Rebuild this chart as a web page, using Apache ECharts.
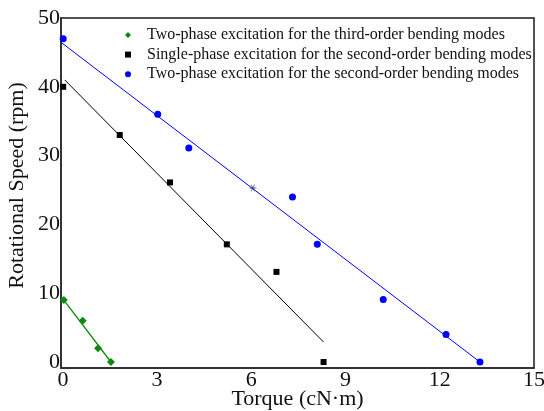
<!DOCTYPE html>
<html>
<head>
<meta charset="utf-8">
<script src="https://cdn.jsdelivr.net/npm/echarts@6/dist/echarts.min.js"></script>
<style>
html,body{margin:0;padding:0;background:#fff;}
#chart{width:544px;height:411px;}
</style>
</head>
<body>
<div id="chart"></div>
<script>
// ---- data ----
const seriesNames = [
  'Two-phase excitation for the third-order bending modes',
  'Single-phase excitation for the second-order bending modes',
  'Two-phase excitation for the second-order bending modes'
];
const greenX = [0.03, 0.63, 1.12, 1.53];
const greenY = [9.0, 6.0, 2.0, 0.0];
const blackX = [0.01, 1.81, 3.41, 5.22, 6.80, 8.30];
const blackY = [40.0, 33.0, 26.1, 17.1, 13.1, 0.0];
const blueX = [0.01, 3.02, 4.01, 7.31, 8.10, 10.20, 12.20, 13.28];
const blueY = [47.0, 36.0, 31.1, 24.0, 17.1, 9.1, 4.0, 0.0];
// fitted lines (end points)
const greenFitX = [0.03, 1.53];
const greenFitY = [9.0, 0.0];
const blackFitX = [0.06, 8.30];
const blackFitY = [41.0, 2.9];
const blueFitX = [-0.04, 13.28];
const blueFitY = [46.4, 0.0];
// grey asterisk mark on the blue line
const markX = [6.05];
const markY = [25.3];
const xTicks = [0, 3, 6, 9, 12, 15];
const yTicks = [0, 10, 20, 30, 40, 50];
const xTitle = 'Torque (cN\u00b7m)';
const yTitle = 'Rotational Speed (rpm)';

const zip = (xs, ys) => xs.map((x, i) => [x, ys[i]]);
const FONT = '"Liberation Serif", "Times New Roman", serif';

const chart = echarts.init(document.getElementById('chart'), null, {renderer: 'canvas'});
chart.setOption({
  animation: false,
  backgroundColor: '#fff',
  grid: {left: 61, right: 10, top: 18, bottom: 43, containLabel: false, outerBoundsMode: 'none',
         show: true, borderColor: '#1a1a1a', borderWidth: 1.5, backgroundColor: 'transparent'},
  legend: {
    data: seriesNames,
    orient: 'vertical',
    left: 120,
    top: 22,
    itemWidth: 6,
    itemHeight: 6,
    itemGap: 3.6,
    textStyle: {fontFamily: FONT, fontSize: 16, color: '#111', padding: [0, 0, 0, 11]}
  },
  xAxis: {
    type: 'value',
    min: -0.06,
    max: 15,
    axisLine: {show: true, onZero: false, lineStyle: {color: '#333', width: 2}},
    axisTick: {show: false},
    splitLine: {show: false},
    axisLabel: {customValues: xTicks, margin: 1, fontFamily: FONT, fontSize: 22, color: '#111', showMinLabel: true, showMaxLabel: true}
  },
  yAxis: {
    type: 'value',
    min: -0.87,
    max: 50,
    axisLine: {show: true, onZero: false, lineStyle: {color: '#333', width: 2}},
    axisTick: {show: false},
    splitLine: {show: false},
    axisLabel: {customValues: yTicks, margin: 1, fontFamily: FONT, fontSize: 22, color: '#111'}
  },
  graphic: [{
    type: 'text',
    x: 17,
    y: 185.5,
    rotation: Math.PI / 2,
    style: {text: yTitle, fontFamily: FONT, fontSize: 22, fill: '#111', align: 'center', verticalAlign: 'middle'}
  }, {
    type: 'text',
    x: 297.5,
    y: 399,
    style: {text: xTitle, fontFamily: FONT, fontSize: 22, fill: '#111', align: 'center', verticalAlign: 'middle'}
  }],
  series: [
    {type: 'line', data: zip(greenFitX, greenFitY), showSymbol: false, lineStyle: {color: '#0a8a0a', width: 1.3}, silent: true},
    {type: 'line', data: zip(blackFitX, blackFitY), showSymbol: false, lineStyle: {color: '#000', width: 1}, silent: true},
    {type: 'line', data: zip(blueFitX, blueFitY), showSymbol: false, lineStyle: {color: '#0000ff', width: 1}, silent: true},
    {name: seriesNames[0], type: 'scatter', data: zip(greenX, greenY), symbol: 'diamond', symbolSize: 8, itemStyle: {color: '#0a8a0a', opacity: 1}},
    {name: seriesNames[1], type: 'scatter', data: zip(blackX, blackY), symbol: 'rect', symbolSize: 6, itemStyle: {color: '#000', opacity: 1}},
    {name: seriesNames[2], type: 'scatter', data: zip(blueX, blueY), symbol: 'circle', symbolSize: 7, itemStyle: {color: '#0000ff', opacity: 1}},
    {type: 'scatter', data: zip(markX, markY), symbol: 'path://M0,4.4L10,4.4L10,5.6L0,5.6Z M2,0.9L3,0.3L8,9.1L7,9.7Z M7,0.3L8,0.9L3,9.7L2,9.1Z', symbolSize: 7, itemStyle: {color: '#666', opacity: 1}}
  ]
});
</script>
</body>
</html>
